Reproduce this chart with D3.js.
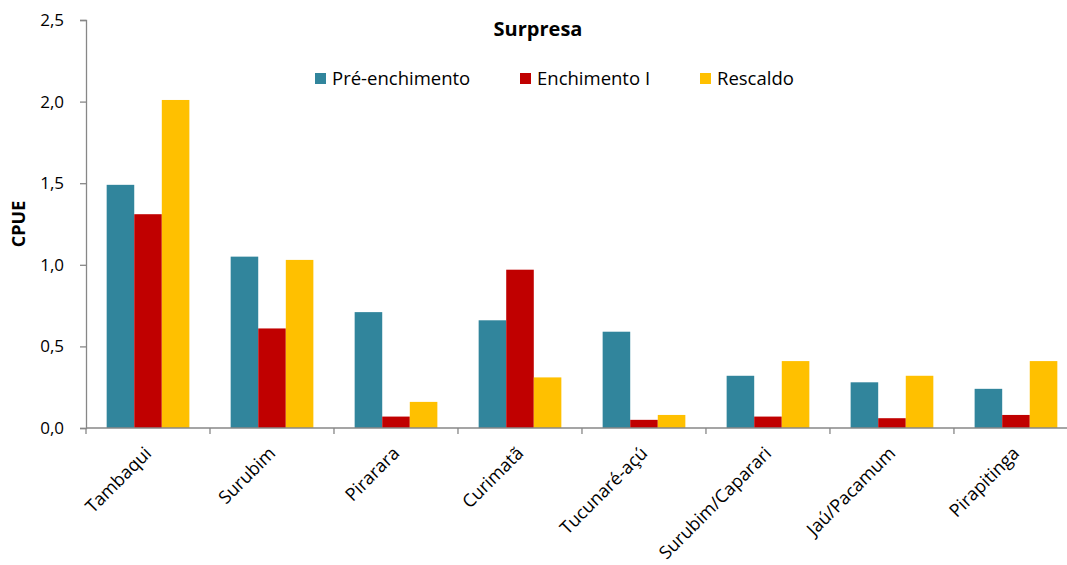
<!DOCTYPE html>
<html>
<head>
<meta charset="utf-8">
<script src="https://cdn.jsdelivr.net/npm/d3@7"></script>
<style>
  html, body { margin: 0; padding: 0; background: #fff; }
  svg { display: block; font-family: "Open Sans", "Liberation Sans", sans-serif; }
</style>
</head>
<body>
<svg id="chart" width="1067" height="565"></svg>
<script>
// Species (categories)
const species = ["Tambaqui", "Surubim", "Pirarara", "Curimatã", "Tucunaré-açú",
                 "Surubim/Caparari", "Jaú/Pacamum", "Pirapitinga"];

// CPUE per period
const preEnchimento = [1.49, 1.05, 0.71, 0.66, 0.59, 0.32, 0.28, 0.24];
const enchimentoI   = [1.31, 0.61, 0.07, 0.97, 0.05, 0.07, 0.06, 0.08];
const rescaldo      = [2.01, 1.03, 0.16, 0.31, 0.08, 0.41, 0.32, 0.41];

const seriesNames  = ["Pré-enchimento", "Enchimento I", "Rescaldo"];
const seriesColors = ["#31859C", "#C00000", "#FFC000"];
const yTicks = [0, 0.5, 1.0, 1.5, 2.0, 2.5];

const seriesValues = [preEnchimento, enchimentoI, rescaldo];
const data = species.map((s, i) => ({
  species: s,
  values: seriesValues.map((arr, k) => ({ key: seriesNames[k], value: arr[i] }))
}));

const svg = d3.select("#chart");
const axisColor = "#878787";

const x0 = d3.scaleBand().domain(species).range([86, 1078]).paddingInner(0.333).paddingOuter(0.1667);
const x1 = d3.scaleBand().domain(seriesNames).range([0, x0.bandwidth()]);
const y = d3.scaleLinear().domain([0, 2.5]).range([428, 20]);
const color = d3.scaleOrdinal().domain(seriesNames).range(seriesColors);

// Bars
const groups = svg.append("g").selectAll("g")
  .data(data).join("g")
  .attr("transform", d => `translate(${x0(d.species)},0)`);
groups.selectAll("rect")
  .data(d => d.values).join("rect")
  .attr("x", d => x1(d.key))
  .attr("width", x1.bandwidth())
  .attr("y", d => y(d.value))
  .attr("height", d => y(0) - y(d.value))
  .attr("fill", d => color(d.key));

// Y axis
const yAxis = svg.append("g")
  .attr("transform", "translate(86,0)")
  .call(d3.axisLeft(y).tickValues(yTicks).tickSize(6).tickPadding(16)
    .tickFormat(d => d3.format(".1f")(d).replace(".", ",")));
yAxis.select(".domain").attr("stroke", axisColor).attr("stroke-width", 1.3);
yAxis.selectAll(".tick line").attr("stroke", axisColor).attr("stroke-width", 1.3);
yAxis.selectAll(".tick text").attr("fill", "#000").style("font-size", "17px")
  .style("font-family", "Open Sans");

// X axis: line with ticks at category boundaries
const step = x0.step();
const boundaries = d3.range(species.length + 1).map(i => 86 + i * step);
svg.append("line")
  .attr("x1", 86).attr("x2", 1078)
  .attr("y1", y(0)).attr("y2", y(0))
  .attr("stroke", axisColor).attr("stroke-width", 1.3);
svg.append("g").selectAll("line")
  .data(boundaries).join("line")
  .attr("x1", d => d).attr("x2", d => d)
  .attr("y1", y(0)).attr("y2", y(0) + 6)
  .attr("stroke", axisColor).attr("stroke-width", 1.3);

// Category labels, rotated
svg.append("g").selectAll("text")
  .data(species).join("text")
  .attr("transform", d => `translate(${x0(d) + x0.bandwidth() / 2},${y(0) + 22}) rotate(-45)`)
  .attr("text-anchor", "end")
  .attr("dy", "0.35em")
  .style("font-size", "18px")
  .attr("fill", "#000")
  .text(d => d);

// Y axis title
svg.append("text")
  .attr("transform", "translate(25,224) rotate(-90)")
  .attr("text-anchor", "middle")
  .style("font-size", "18px")
  .style("font-weight", "bold")
  .text("CPUE");

// Title
svg.append("text")
  .attr("x", 538).attr("y", 36)
  .attr("text-anchor", "middle")
  .style("font-size", "20px")
  .style("font-weight", "bold")
  .text("Surpresa");

// Legend
const legendX = [315, 520, 700];
const legend = svg.append("g").selectAll("g")
  .data(seriesNames).join("g")
  .attr("transform", (d, i) => `translate(${legendX[i]},73)`);
legend.append("rect")
  .attr("width", 11).attr("height", 11)
  .attr("fill", d => color(d));
legend.append("text")
  .attr("x", 17).attr("y", 5.5).attr("dy", "0.35em")
  .style("font-size", "18.5px")
  .text(d => d);
</script>
</body>
</html>
